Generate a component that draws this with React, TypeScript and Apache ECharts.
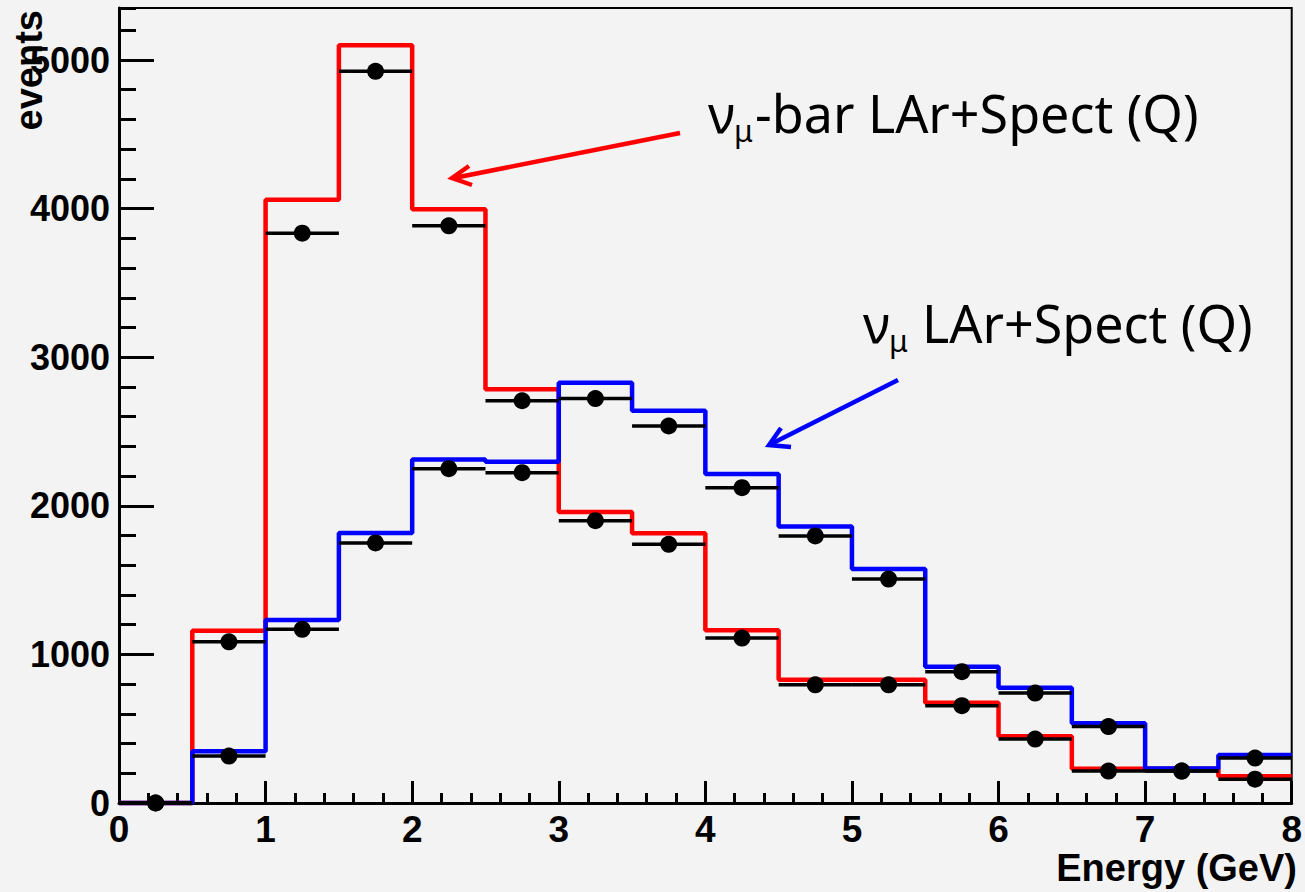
import React, { useEffect, useRef } from "react";
import * as echarts from "echarts";

// Bin edges (GeV) and bin centres
const binEdges = [0, 0.5, 1, 1.5, 2, 2.5, 3, 3.5, 4, 4.5, 5, 5.5, 6, 6.5, 7, 7.5, 8];
const binCenters = [0.25, 0.75, 1.25, 1.75, 2.25, 2.75, 3.25, 3.75, 4.25, 4.75, 5.25, 5.75, 6.25, 6.75, 7.25, 7.75];
const binHalfWidth = 0.25;

// nu_mu-bar LAr+Spect (Q) histogram (red)
const antiNumuHist = [0, 1160, 4060, 5100, 3995, 2785, 1958, 1815, 1162, 830, 830, 675, 450, 230, 230, 180];
// nu_mu LAr+Spect (Q) histogram (blue)
const numuHist = [0, 348, 1231, 1817, 2312, 2297, 2828, 2640, 2214, 1860, 1575, 917, 776, 536, 233, 323];
// Black points (reconstructed)
const antiNumuPoints = [0, 1085, 3835, 4924, 3884, 2707, 1900, 1741, 1110, 795, 795, 655, 430, 215, 215, 160];
const numuPoints = [0, 316, 1169, 1750, 2250, 2223, 2722, 2537, 2122, 1797, 1507, 884, 740, 514, 215, 302];

const yMax = 5350;
const xMin = 0;
const xMax = 8;

const axisFont = "'Liberation Sans', Arial, Helvetica, sans-serif";
const noteFont = "'Noto Sans', 'Open Sans', sans-serif";

function stepData(values: number[]) {
  return binEdges.map((e, i) => [e, values[Math.min(i, values.length - 1)]]);
}

function pointData(values: number[]) {
  return binCenters.map((c, i) => [c, values[i]]);
}

const renderPoint = (params: any, api: any) => {
  const x = api.value(0);
  const y = api.value(1);
  const l = api.coord([x - binHalfWidth, y]);
  const r = api.coord([x + binHalfWidth, y]);
  const c = api.coord([x, y]);
  return {
    type: "group",
    children: [
      {
        type: "line",
        shape: { x1: l[0], y1: l[1], x2: r[0], y2: r[1] },
        style: { stroke: "#000", lineWidth: 3.5 },
      },
      {
        type: "circle",
        shape: { cx: c[0], cy: c[1], r: 8.5 },
        style: { fill: "#000" },
      },
    ],
  };
};

export default function App() {
  const ref = useRef<HTMLDivElement>(null);

  useEffect(() => {
    if (!ref.current) return;
    const chart = echarts.init(ref.current, undefined, { renderer: "svg" });

    const tickStyle = { color: "#000", width: 3 };

    const option: any = {
      animation: false,
      backgroundColor: "#f3f3f3",
      grid: {
        left: 119,
        right: 7,
        top: 8,
        bottom: 89,
        show: true,
        borderColor: "#000",
        borderWidth: 2,
        backgroundColor: "transparent",
      },
      xAxis: [
        {
          type: "value",
          position: "bottom",
          min: xMin,
          max: xMax,
          interval: 1,
          axisLine: { show: true, lineStyle: { color: "#000", width: 3 } },
          axisTick: { show: true, inside: true, length: 22, lineStyle: tickStyle },
          axisLabel: {
            show: true,
            color: "#000",
            fontFamily: axisFont,
            fontWeight: "bold",
            fontSize: 37,
            margin: 8,
            formatter: (v: number) => String(v),
          },
          splitLine: { show: false },
        },
        {
          type: "value",
          position: "bottom",
          min: xMin,
          max: xMax,
          interval: 0.2,
          axisLine: { show: false },
          axisTick: { show: true, inside: true, length: 10, lineStyle: tickStyle },
          axisLabel: { show: false },
          splitLine: { show: false },
        },
      ],
      yAxis: [
        {
          type: "value",
          position: "left",
          min: 0,
          max: yMax,
          interval: 1000,
          axisLine: { show: true, lineStyle: { color: "#000", width: 3 } },
          axisTick: { show: true, inside: true, length: 35, lineStyle: tickStyle },
          axisLabel: {
            show: true,
            showMaxLabel: false,
            color: "#000",
            fontFamily: axisFont,
            fontWeight: "bold",
            fontSize: 36,
            margin: 9,
            formatter: (v: number) => String(v),
          },
          splitLine: { show: false },
        },
        {
          type: "value",
          position: "left",
          min: 0,
          max: yMax,
          interval: 200,
          axisLine: { show: false },
          axisTick: { show: true, inside: true, length: 17, lineStyle: tickStyle },
          axisLabel: { show: false },
          splitLine: { show: false },
        },
      ],
      series: [
        {
          name: "nu_mu-bar LAr+Spect (Q)",
          type: "line",
          step: "end",
          xAxisIndex: 0,
          yAxisIndex: 0,
          data: stepData(antiNumuHist),
          symbol: "none",
          clip: false,
          lineStyle: { color: "#ff0000", width: 4.5 },
          z: 3,
        },
        {
          name: "nu_mu LAr+Spect (Q)",
          type: "line",
          step: "end",
          xAxisIndex: 0,
          yAxisIndex: 0,
          data: stepData(numuHist),
          symbol: "none",
          clip: false,
          lineStyle: { color: "#0000ff", width: 4.5 },
          z: 4,
        },
        {
          name: "anti points",
          type: "custom",
          xAxisIndex: 0,
          yAxisIndex: 0,
          data: pointData(antiNumuPoints),
          renderItem: renderPoint,
          clip: false,
          z: 5,
        },
        {
          name: "numu points",
          type: "custom",
          xAxisIndex: 0,
          yAxisIndex: 0,
          data: pointData(numuPoints),
          renderItem: renderPoint,
          clip: false,
          z: 5,
        },
      ],
      graphic: [
        // y-axis title
        {
          type: "text",
          x: 29,
          y: 10,
          rotation: Math.PI / 2,
          style: {
            text: "events",
            fill: "#000",
            font: `bold 38px ${axisFont}`,
            align: "right",
            verticalAlign: "middle",
          },
          z: 10,
        },
        // x-axis title
        {
          type: "text",
          x: 1297,
          y: 868,
          style: {
            text: "Energy (GeV)",
            fill: "#000",
            font: `bold 38px ${axisFont}`,
            align: "right",
            verticalAlign: "middle",
          },
          z: 10,
        },
        // Red annotation
        {
          type: "text",
          x: 708,
          y: 112,
          style: { text: "ν", fill: "#000", font: `52px ${noteFont}`, align: "left", verticalAlign: "middle" },
          z: 10,
        },
        {
          type: "text",
          x: 734,
          y: 130,
          style: { text: "μ", fill: "#000", font: `30px ${noteFont}`, align: "left", verticalAlign: "middle" },
          z: 10,
        },
        {
          type: "text",
          x: 755,
          y: 112,
          style: {
            text: "-bar LAr+Spect (Q)",
            fill: "#000",
            font: `52px ${noteFont}`,
            align: "left",
            verticalAlign: "middle",
          },
          z: 10,
        },
        // Blue annotation
        {
          type: "text",
          x: 863,
          y: 322,
          style: { text: "ν", fill: "#000", font: `52px ${noteFont}`, align: "left", verticalAlign: "middle" },
          z: 10,
        },
        {
          type: "text",
          x: 889,
          y: 340,
          style: { text: "μ", fill: "#000", font: `30px ${noteFont}`, align: "left", verticalAlign: "middle" },
          z: 10,
        },
        {
          type: "text",
          x: 922,
          y: 322,
          style: {
            text: "LAr+Spect (Q)",
            fill: "#000",
            font: `52px ${noteFont}`,
            align: "left",
            verticalAlign: "middle",
          },
          z: 10,
        },
        // Red arrow
        {
          type: "line",
          shape: { x1: 680, y1: 133, x2: 454, y2: 178 },
          style: { stroke: "#ff0000", lineWidth: 4.5 },
          z: 10,
        },
        {
          type: "polyline",
          shape: { points: [[469, 166], [452, 178], [472, 185]] },
          style: { stroke: "#ff0000", lineWidth: 4.5, fill: null, lineJoin: "miter" },
          z: 10,
        },
        // Blue arrow
        {
          type: "line",
          shape: { x1: 898, y1: 380, x2: 771, y2: 444 },
          style: { stroke: "#0000ff", lineWidth: 4.5 },
          z: 10,
        },
        {
          type: "polyline",
          shape: { points: [[781, 428], [769, 445], [791, 447]] },
          style: { stroke: "#0000ff", lineWidth: 4.5, fill: null, lineJoin: "miter" },
          z: 10,
        },
      ],
    };

    chart.setOption(option);
    return () => {
      chart.dispose();
    };
  }, []);

  return (
    <div
      ref={ref}
      style={{ position: "absolute", left: 0, top: 0, width: 1305, height: 892 }}
    />
  );
}
